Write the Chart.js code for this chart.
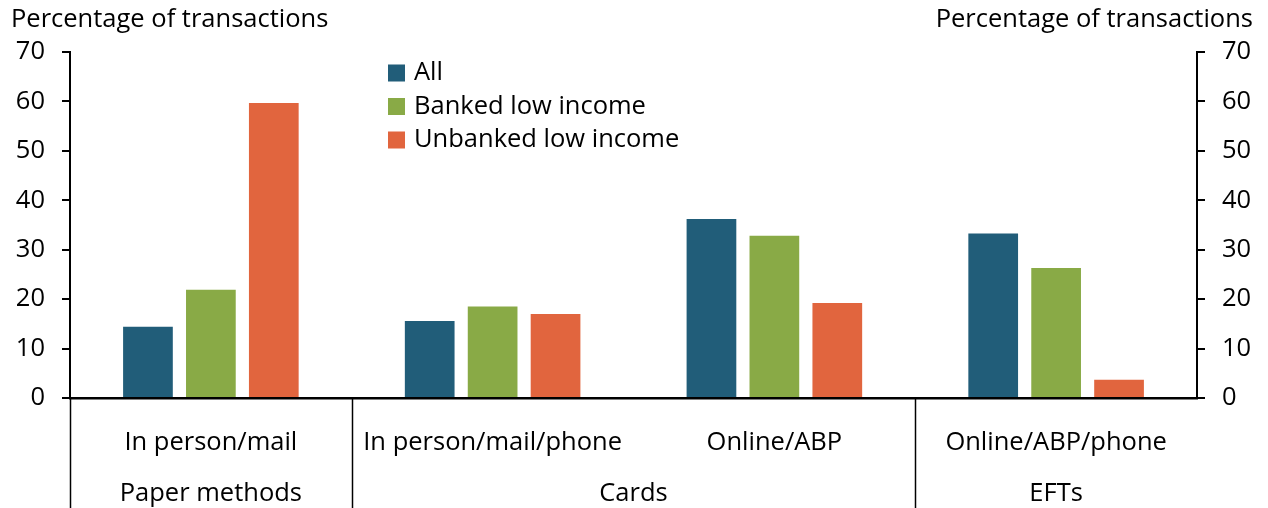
<!DOCTYPE html>
<html>
<head>
<meta charset="utf-8">
<script src="https://cdn.jsdelivr.net/npm/chart.js@4.4.0/dist/chart.umd.min.js"></script>
<style>
  html, body { margin: 0; padding: 0; background: #fff; }
  #wrap { width: 1268px; height: 508px; position: relative; }
</style>
</head>
<body>
<div id="wrap"><canvas id="chart"></canvas></div>
<script>
// categories and the group each one belongs to
const categories = ['In person/mail', 'In person/mail/phone', 'Online/ABP', 'Online/ABP/phone'];
const groups = ['Paper methods', 'Cards', 'Cards', 'EFTs'];

// series values, percent of transactions
const allVals = [14.4, 15.6, 36.2, 33.3];
const bankedVals = [21.9, 18.5, 32.8, 26.3];
const unbankedVals = [59.7, 17.0, 19.2, 3.7];

const seriesNames = ['All', 'Banked low income', 'Unbanked low income'];
const seriesColors = ['#215d79', '#89aa46', '#e1653e'];

const yMin = 0, yMax = 70, yStep = 10;
const axisTitle = 'Percentage of transactions';

const FONT = '"Open Sans", "Liberation Sans", sans-serif';
const FS = 25.5;

// titles, legend, group labels and separators
const extras = {
  id: 'extras',
  afterDraw(chart) {
    const ctx = chart.ctx;
    const area = chart.chartArea;
    const xs = chart.scales.x;
    const H = chart.height;
    ctx.save();
    ctx.fillStyle = '#000';
    ctx.font = FS + 'px ' + FONT;
    ctx.textBaseline = 'middle';

    // axis titles
    ctx.textAlign = 'left';
    ctx.fillText(axisTitle, 11, 20);
    ctx.textAlign = 'right';
    ctx.fillText(axisTitle, 1253, 20);

    // legend
    const ds = chart.data.datasets;
    ds.forEach((d, i) => {
      const y = 73 + i * 33.5;
      ctx.fillStyle = d.backgroundColor;
      ctx.fillRect(388, y - 8.5, 17, 17);
      ctx.fillStyle = '#000';
      ctx.textAlign = 'left';
      ctx.fillText(d.label, 414, y);
    });

    // group separators and labels
    const n = categories.length;
    const step = (xs.right - xs.left) / n;
    ctx.strokeStyle = '#000';
    ctx.lineWidth = 1.5;
    const edge = (i) => xs.left + i * step;
    const lines = [0];
    for (let i = 1; i < n; i++) if (groups[i] !== groups[i - 1]) lines.push(i);
    lines.forEach(i => {
      const x = Math.round(edge(i)) + 0.5;
      ctx.beginPath();
      ctx.moveTo(x, area.bottom);
      ctx.lineTo(x, H);
      ctx.stroke();
    });

    ctx.textAlign = 'center';
    let start = 0;
    for (let i = 1; i <= n; i++) {
      if (i === n || groups[i] !== groups[start]) {
        const cx = (xs.getPixelForValue(start) + xs.getPixelForValue(i - 1)) / 2;
        ctx.fillText(groups[start], cx, 494);
        start = i;
      }
    }
    ctx.restore();
  }
};

const yAxis = (pos, w) => ({
  position: pos,
  min: yMin,
  max: yMax,
  ticks: {
    stepSize: yStep,
    color: '#000',
    font: { family: FONT, size: FS },
    padding: 17
  },
  grid: {
    drawOnChartArea: false,
    drawTicks: true,
    tickLength: 8,
    color: '#000',
    lineWidth: 2
  },
  border: { display: true, color: '#000', width: 2 },
  afterFit(scale) { scale.width = w; }
});

new Chart(document.getElementById('chart'), {
  type: 'bar',
  data: {
    labels: categories,
    datasets: [
      { label: seriesNames[0], data: allVals, backgroundColor: seriesColors[0] },
      { label: seriesNames[1], data: bankedVals, backgroundColor: seriesColors[1] },
      { label: seriesNames[2], data: unbankedVals, backgroundColor: seriesColors[2] }
    ]
  },
  options: {
    responsive: true,
    maintainAspectRatio: false,
    animation: false,
    categoryPercentage: 0.67,
    barPercentage: 0.79,
    layout: { padding: { top: 52, left: 0, right: 0, bottom: 0 } },
    scales: {
      x: {
        grid: { display: false },
        border: { display: true, color: '#000', width: 2.5 },
        ticks: {
          color: '#000',
          font: { family: FONT, size: FS },
          padding: 21,
          maxRotation: 0,
          autoSkip: false
        },
        afterFit(scale) { scale.height = 110; }
      },
      y: yAxis('left', 70),
      y2: yAxis('right', 71)
    },
    plugins: {
      legend: { display: false },
      tooltip: { enabled: false }
    }
  },
  plugins: [extras]
});
</script>
</body>
</html>
